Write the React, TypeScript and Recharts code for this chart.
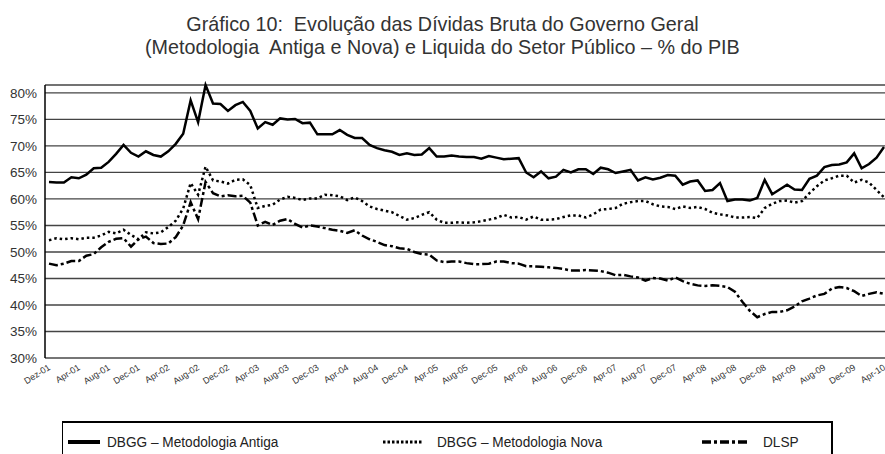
import React from 'react';
import { LineChart, Line, XAxis, YAxis, CartesianGrid } from 'recharts';

const monthNames = ['Dec', 'Jan', 'Feb', 'Mar', 'Apr', 'May', 'Jun', 'Jul', 'Aug', 'Sep', 'Oct', 'Nov'];
const firstLabel = 'Dez-01';
const pointCount = 113;

const antiga = [
  63.2, 63.1, 63.1, 64.1, 63.9, 64.6, 65.8, 65.9, 67.0, 68.5,
  70.2, 68.7, 68.0, 69.0, 68.3, 68.0, 69.0, 70.4, 72.3, 78.6,
  74.5, 81.5, 78.0, 77.9, 76.6, 77.7, 78.3, 76.6, 73.3, 74.5,
  74.0, 75.2, 75.0, 75.1, 74.3, 74.4, 72.2, 72.2, 72.2, 73.0,
  72.1, 71.5, 71.5, 70.2, 69.6, 69.2, 68.9, 68.3, 68.6, 68.3,
  68.4, 69.6, 68.0, 68.0, 68.2, 68.0, 67.9, 67.9, 67.6, 68.1,
  67.8, 67.5, 67.6, 67.7, 65.0, 64.1, 65.2, 63.9, 64.2, 65.5,
  65.0, 65.6, 65.6, 64.7, 65.9, 65.6, 64.9, 65.2, 65.5, 63.5,
  64.1, 63.7, 64.0, 64.5, 64.4, 62.7, 63.3, 63.5, 61.5, 61.7,
  63.0, 59.6, 59.9, 59.9, 59.7, 60.2, 63.6, 60.9, 61.8, 62.7,
  61.8, 61.7, 63.8, 64.4, 66.0, 66.4, 66.5, 66.9, 68.6, 65.8,
  66.6, 67.8, 69.8,
];

const nova = [
  52.2, 52.6, 52.4, 52.6, 52.4, 52.7, 52.7, 53.1, 53.8, 53.5,
  54.2, 53.2, 52.4, 53.7, 53.5, 53.7, 54.7, 55.9, 58.2, 63.0,
  60.8, 66.1, 63.5, 63.3, 62.9, 63.6, 63.7, 62.6, 58.3, 58.7,
  58.9, 59.9, 60.4, 60.2, 59.8, 60.1, 60.1, 60.8, 60.7, 60.5,
  59.8, 60.3, 59.6, 58.6, 58.1, 57.8, 57.5, 56.8, 56.1, 56.4,
  57.0, 57.5, 56.1, 55.5, 55.5, 55.6, 55.5, 55.6, 55.8, 56.1,
  56.4, 57.0, 56.5, 56.6, 56.1, 56.7, 56.1, 56.1, 56.2, 56.6,
  56.9, 56.9, 56.5, 57.1, 58.0, 58.1, 58.3, 59.1, 59.4, 59.6,
  59.6, 59.0, 58.6, 58.5, 58.1, 58.6, 58.3, 58.5, 58.1, 57.4,
  57.1, 56.9, 56.5, 56.5, 56.6, 56.4, 58.3, 59.1, 59.6, 59.7,
  59.3, 59.6, 61.1, 62.4, 63.5, 63.9, 64.4, 64.4, 63.1, 63.6,
  63.1, 61.7, 60.3,
];

const dlsp = [
  47.8, 47.5, 47.8, 48.3, 48.3, 49.3, 49.6, 50.9, 51.9, 52.5,
  52.6, 51.0, 52.4, 52.9, 51.7, 51.5, 51.6, 52.8, 55.0, 59.4,
  56.2, 63.2, 61.1, 60.5, 60.7, 60.5, 60.6, 59.3, 55.0, 55.7,
  55.1, 55.9, 56.2, 55.3, 54.6, 55.0, 54.8, 54.5, 54.2, 54.0,
  53.6, 54.1, 53.1, 52.4, 51.9, 51.3, 51.1, 50.7, 50.6, 50.0,
  49.6, 49.5, 48.4, 48.1, 48.2, 48.2, 47.9, 47.7, 47.7, 47.8,
  48.2, 48.2, 47.9, 47.8, 47.3, 47.3, 47.2, 47.1, 47.0, 46.8,
  46.5, 46.5, 46.6, 46.5, 46.4, 46.1, 45.6, 45.7, 45.4, 45.2,
  44.6, 45.1, 45.0, 44.6, 45.2, 44.5, 44.0, 43.7, 43.6, 43.7,
  43.6, 43.4, 42.5, 40.6, 38.9, 37.7, 38.3, 38.7, 38.7, 39.0,
  39.7, 40.7, 41.2, 41.8, 42.1, 43.1, 43.4, 43.2, 42.6, 41.7,
  42.1, 42.4, 42.1,
];

const yTicks = [30, 35, 40, 45, 50, 55, 60, 65, 70, 75, 80];

const categories: string[] = [];
for (let i = 0; i < pointCount; i++) {
  if (i === 0) {
    categories.push(firstLabel);
  } else {
    const yr = i % 12 === 0 ? Math.floor(i / 12) : 1 + Math.floor(i / 12);
    categories.push(`${monthNames[i % 12]}-${String(yr).padStart(2, '0')}`);
  }
}

const data = categories.map((c, i) => ({
  name: c,
  antiga: antiga[i],
  nova: nova[i],
  dlsp: dlsp[i],
}));

const font = '"Liberation Sans", Arial, sans-serif';

const XTick = (props: any) => {
  const { x, y, payload } = props;
  const tx = x + 2;
  const ty = y + 3;
  return (
    <text
      x={tx}
      y={ty}
      transform={`rotate(-32, ${tx}, ${ty})`}
      textAnchor="end"
      fontSize={9}
      fontFamily={font}
      fill="#333"
    >
      {payload.value}
    </text>
  );
};

const LegendSample = ({ dash, width, thick }: { dash?: string; width: number; thick: number }) => (
  <svg width={width} height={10} style={{ display: 'block' }}>
    <line x1={0} y1={5} x2={width} y2={5} stroke="#000" strokeWidth={thick} strokeDasharray={dash} />
  </svg>
);

const legendText: React.CSSProperties = {
  position: 'absolute',
  top: 10,
  whiteSpace: 'nowrap',
  fontFamily: font,
  fontSize: 15.5,
  lineHeight: '17px',
  color: '#222',
  transform: 'scaleX(0.88)',
  transformOrigin: 'left center',
};

const titleLine: React.CSSProperties = {
  display: 'inline-block',
  transform: 'scaleX(0.94)',
};

export default function App() {
  return (
    <div style={{ position: 'absolute', left: 0, top: 0, width: 885, height: 454, background: '#fff', overflow: 'hidden' }}>
      <div
        style={{
          position: 'absolute',
          left: 0,
          top: 12,
          width: 885,
          textAlign: 'center',
          fontFamily: font,
          fontSize: 21,
          lineHeight: '23px',
          color: '#333',
        }}
      >
        <div><span style={titleLine}>Gráfico 10:&nbsp; Evolução das Dívidas Bruta do Governo Geral</span></div>
        <div><span style={titleLine}>(Metodologia&nbsp; Antiga e Nova) e Liquida do Setor Público – % do PIB</span></div>
      </div>
      <LineChart width={885} height={454} data={data} margin={{ top: 85, right: 0, left: 0, bottom: 66 }}>
        <CartesianGrid vertical={false} stroke="#444" strokeWidth={1.3} />
        <XAxis
          dataKey="name"
          interval={3}
          tickLine={false}
          axisLine={{ stroke: '#777', strokeWidth: 1.5 }}
          padding={{ left: 4, right: 1 }}
          height={30}
          tick={<XTick />}
        />
        <YAxis
          width={45}
          domain={[30, 80]}
          ticks={yTicks}
          tickLine={false}
          axisLine={{ stroke: '#000', strokeWidth: 1.5 }}
          tickFormatter={(v: number) => `${v}%`}
          tick={{ fontSize: 13.5, fill: '#333', fontFamily: font }}
          tickMargin={2}
        />
        <Line type="linear" dataKey="antiga" stroke="#000" strokeWidth={2.5} dot={false} isAnimationActive={false} />
        <Line type="linear" dataKey="nova" stroke="#000" strokeWidth={2.5} strokeDasharray="2.5 3" dot={false} isAnimationActive={false} />
        <Line type="linear" dataKey="dlsp" stroke="#000" strokeWidth={2.5} strokeDasharray="9 3 3 3" dot={false} isAnimationActive={false} />
      </LineChart>
      <div
        style={{
          position: 'absolute',
          left: 62,
          top: 421,
          width: 768,
          height: 60,
          borderTop: '2px solid #000',
          borderLeft: '1px solid #000',
          borderRight: '2px solid #000',
        }}
      >
        <div style={{ position: 'absolute', left: 5, top: 14 }}>
          <LegendSample width={32} thick={4} />
        </div>
        <div style={{ ...legendText, left: 44 }}>DBGG – Metodologia Antiga</div>
        <div style={{ position: 'absolute', left: 320, top: 14 }}>
          <LegendSample width={40} thick={3} dash="2.5 2" />
        </div>
        <div style={{ ...legendText, left: 374 }}>DBGG – Metodologia Nova</div>
        <div style={{ position: 'absolute', left: 639, top: 14 }}>
          <LegendSample width={48} thick={3.5} dash="9 3 3 3" />
        </div>
        <div style={{ ...legendText, left: 700 }}>DLSP</div>
      </div>
    </div>
  );
}
